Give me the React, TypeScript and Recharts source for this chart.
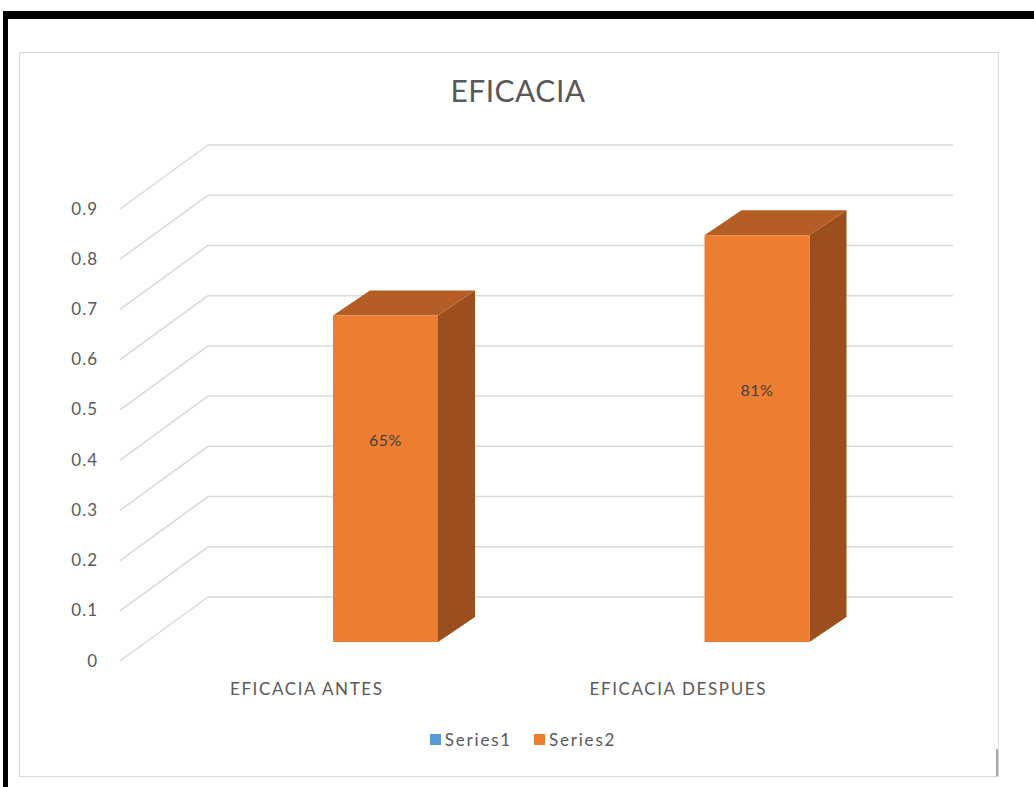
import React from "react";
import { BarChart, Bar, XAxis, YAxis, CartesianGrid, Legend, LabelList } from "recharts";

const categories = ["EFICACIA ANTES", "EFICACIA DESPUES"];
const series1Values: (number | null)[] = [null, null];
const series2Values = [0.65, 0.81];
const yTicks = [0, 0.1, 0.2, 0.3, 0.4, 0.5, 0.6, 0.7, 0.8, 0.9];
const seriesNames = ["Series1", "Series2"];
const seriesColors = ["#5B9BD5", "#ED7D31"];

const data = categories.map((c, i) => ({
  name: c,
  s1: series1Values[i],
  s2: series2Values[i],
}));

const FONT = "Lato, 'Noto Sans', sans-serif";
const DX = 37;
const DY = 25;
const GRID = "#D9D9D9";

const Bar3D = (props: any) => {
  const { x, y, width, height, fill } = props;
  if (!height || height <= 0) return null;
  const w = width;
  const h = height;
  return (
    <g>
      <polygon
        points={`${x + w},${y} ${x + w + DX},${y - DY} ${x + w + DX},${y + h - DY} ${x + w},${y + h}`}
        fill="#9A4F1D"
      />
      <polygon
        points={`${x},${y} ${x + DX},${y - DY} ${x + w + DX},${y - DY} ${x + w},${y}`}
        fill="#B45D24"
      />
      <rect x={x} y={y} width={w} height={h} fill={fill} />
    </g>
  );
};

const gridLine = (p: any) => {
  const y = p.y1;
  const xb = p.x1 + 8;
  const xe = p.x2 + 10;
  return (
    <g key={p.key ?? `g-${y}`}>
      <line x1={xb} y1={y - 45} x2={xe} y2={y - 45} stroke={GRID} strokeWidth={1.5} />
      <line x1={120} y1={y + 19} x2={xb} y2={y - 45} stroke={GRID} strokeWidth={1.5} />
    </g>
  );
};

const YTick = (props: any) => {
  const { y, payload } = props;
  return (
    <text x={98} y={y + 18} textAnchor="end" dominantBaseline="central" fill="#595959" fontSize={17} fontFamily={FONT} letterSpacing={1}>
      {payload.value}
    </text>
  );
};

const XTick = (props: any) => {
  const { x, y, payload } = props;
  return (
    <text x={x - 79} y={y + 51} textAnchor="middle" fill="#595959" fontSize={17} fontFamily={FONT} letterSpacing={1.6}>
      {payload.value}
    </text>
  );
};

const BarLabel = (props: any) => {
  const { x, y, width, height, value } = props;
  if (value == null) return null;
  return (
    <text x={x + width / 2} y={y + height * 0.38} textAnchor="middle" dominantBaseline="central" fill="#404040" fontSize={16} fontFamily={FONT} letterSpacing={0.5}>
      {`${Math.round(value * 100)}%`}
    </text>
  );
};

const LegendContent = (props: any) => {
  const { payload } = props;
  return (
    <div style={{ display: "flex", justifyContent: "center", alignItems: "center", gap: 22, fontFamily: FONT, fontSize: 17, color: "#595959", letterSpacing: 1.8 }}>
      {(payload || []).map((item: any) => (
        <div key={item.value} style={{ display: "flex", alignItems: "center", gap: 4 }}>
          <span style={{ display: "inline-block", width: 11, height: 11, background: item.color }} />
          <span>{item.value}</span>
        </div>
      ))}
    </div>
  );
};

export default function App() {
  return (
    <div style={{ position: "absolute", left: 0, top: 0, width: 1034, height: 787, background: "#fff", overflow: "hidden" }}>
      <div style={{ position: "absolute", left: 3, top: 11, width: 1040, height: 770, border: "solid #000", borderWidth: "8px 0 8px 5px" }} />
      <div style={{ position: "absolute", left: 19, top: 52, width: 978, height: 723, border: "1px solid #D9D9D9" }} />
      <div style={{ position: "absolute", left: 996, top: 749, width: 2, height: 27, background: "#A6A6A6" }} />
      <div style={{ position: "absolute", left: 0, top: 72, width: 1036, textAlign: "center", fontFamily: FONT, fontSize: 30, color: "#595959", letterSpacing: 0.5 }}>
        EFICACIA
      </div>
      <div style={{ position: "absolute", left: 0, top: 0 }}>
        <BarChart
          width={1034}
          height={787}
          data={data}
          margin={{ top: 190, right: 91, bottom: 115, left: 100 }}
          barSize={105}
        >
          <CartesianGrid vertical={false} horizontal={gridLine} />
          <XAxis dataKey="name" tick={<XTick />} axisLine={false} tickLine={false} tickSize={0} height={30} interval={0} />
          <YAxis type="number" domain={[0, 0.9]} ticks={yTicks} tick={<YTick />} axisLine={false} tickLine={false} width={100} interval={0} />
          <Legend
            layout="horizontal"
            verticalAlign="middle"
            align="center"
            content={<LegendContent />}
            wrapperStyle={{ top: 729, left: 6, width: 1034 }}
          />
          <Bar dataKey="s1" name={seriesNames[0]} stackId="a" fill={seriesColors[0]} shape={<Bar3D />} isAnimationActive={false} />
          <Bar dataKey="s2" name={seriesNames[1]} stackId="a" fill={seriesColors[1]} shape={<Bar3D />} isAnimationActive={false}>
            <LabelList dataKey="s2" content={<BarLabel />} />
          </Bar>
        </BarChart>
      </div>
    </div>
  );
}
